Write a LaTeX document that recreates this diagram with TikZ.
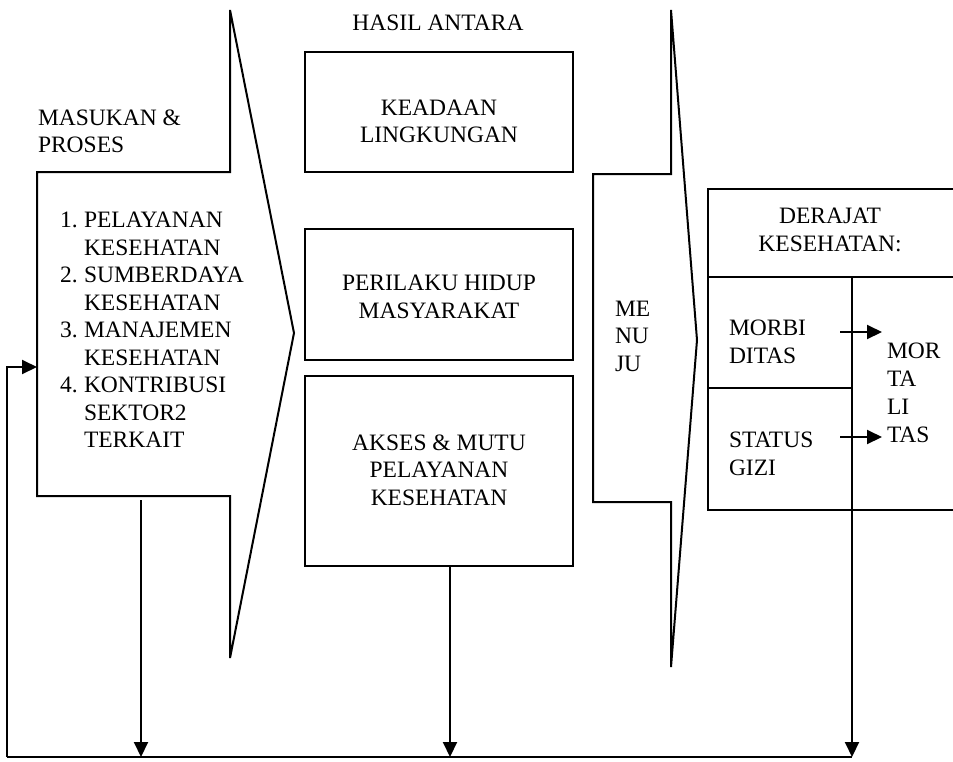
\documentclass[tikz,border=0pt]{standalone}
\usepackage{fontspec}
\setmainfont{Liberation Serif}
\usetikzlibrary{arrows.meta}
\begin{document}
\begin{tikzpicture}[x=1pt,y=-1pt, line width=2pt,
  txt/.style={inner sep=0pt, font=\fontsize{23.5}{28}\selectfont},
  ltxt/.style={txt, anchor=base west},
  ctxt/.style={txt, anchor=base},
  box/.style={draw, rectangle, inner sep=0pt, line width=2pt},
  arr/.style={-{Triangle[length=15pt,width=14pt]}, line width=2pt},
  shp/.style={draw, line width=2pt}]
\useasboundingbox (0,0) rectangle (953,761);

% block arrows
\draw[shp] (230,10) -- (230,172) -- (37,172) -- (37,496) -- (230,496) -- (230,658) -- (294,333) -- cycle;
\draw[shp] (671,10) -- (671,174) -- (593,174) -- (593,502) -- (671,502) -- (671,667) -- (697,340) -- cycle;

% middle boxes
\node[box, minimum width=268pt, minimum height=120pt] (kead) at (439,112) {};
\node[box, minimum width=268pt, minimum height=131pt] (peri) at (439,294.5) {};
\node[box, minimum width=268pt, minimum height=190pt] (akses) at (439,471) {};

% derajat box
\draw[shp] (953,189) -- (708,189) -- (708,510) -- (953,510);
\draw[shp] (708,277) -- (953,277);
\draw[shp] (708,388) -- (852,388);

% texts
\node[ctxt] (hasil) at (438,30) {HASIL ANTARA};
\node[ltxt] (mas1) at (37,125) {MASUKAN \&};
\node[ltxt] (mas2) at (37,152) {PROSES};

\node[ltxt] (n1) at (59,227) {1.};
\node[ltxt] (l1) at (83,227) {PELAYANAN};
\node[ltxt] (l2) at (83,255) {KESEHATAN};
\node[ltxt] (n2) at (59,282) {2.};
\node[ltxt] (l3) at (83,282) {SUMBERDAYA};
\node[ltxt] (l4) at (83,310) {KESEHATAN};
\node[ltxt] (n3) at (59,337) {3.};
\node[ltxt] (l5) at (83,337) {MANAJEMEN};
\node[ltxt] (l6) at (83,365) {KESEHATAN};
\node[ltxt] (n4) at (59,392) {4.};
\node[ltxt] (l7) at (83,392) {KONTRIBUSI};
\node[ltxt] (l8) at (83,420) {SEKTOR2};
\node[ltxt] (l9) at (83,447) {TERKAIT};

\node[ctxt] (k1) at (439,115) {KEADAAN};
\node[ctxt] (k2) at (439,142) {LINGKUNGAN};
\node[ctxt] (p1) at (439,290) {PERILAKU HIDUP};
\node[ctxt] (p2) at (439,318) {MASYARAKAT};
\node[ctxt] (a1) at (439,450) {AKSES \& MUTU};
\node[ctxt] (a2) at (439,477) {PELAYANAN};
\node[ctxt] (a3) at (439,505) {KESEHATAN};

\node[ltxt] (me) at (614,316) {ME};
\node[ltxt] (nu) at (614,343) {NU};
\node[ltxt] (ju) at (614,371) {JU};

\node[ctxt] (d1) at (830,223) {DERAJAT};
\node[ctxt] (d2) at (830,251) {KESEHATAN:};
\node[ltxt] (mb1) at (728,335) {MORBI};
\node[ltxt] (mb2) at (728,363) {DITAS};
\node[ltxt] (sg1) at (728,447) {STATUS};
\node[ltxt] (sg2) at (728,475) {GIZI};
\node[ltxt] (mt1) at (886,358) {MOR};
\node[ltxt] (mt2) at (886,386) {TA};
\node[ltxt] (mt3) at (886,414) {LI};
\node[ltxt] (mt4) at (886,442) {TAS};

% inner arrows
\coordinate (mbs) at (840,332);
\coordinate (mbe) at (882,332);
\coordinate (sgs) at (840,437);
\coordinate (sge) at (882,437);
\draw[arr] (mbs) -- (mbe);
\draw[arr] (sgs) -- (sge);

% feedback connectors
\coordinate (top1) at (141,500);
\coordinate (bot1) at (141,757);
\coordinate (bot2) at (450,757);
\coordinate (top3) at (852,277);
\coordinate (bot3) at (852,757);
\coordinate (lb) at (7,757);
\coordinate (lt) at (7,367);
\coordinate (inp) at (37,367);

\draw[shp] (lb) -- (bot3);
\draw[arr] (top1) -- (bot1);
\draw[arr] (akses.south -| bot2) -- (bot2);
\draw[arr] (top3) -- (bot3);
\draw[arr] (lb) -- (lt) -- (inp);
\end{tikzpicture}
\end{document}
